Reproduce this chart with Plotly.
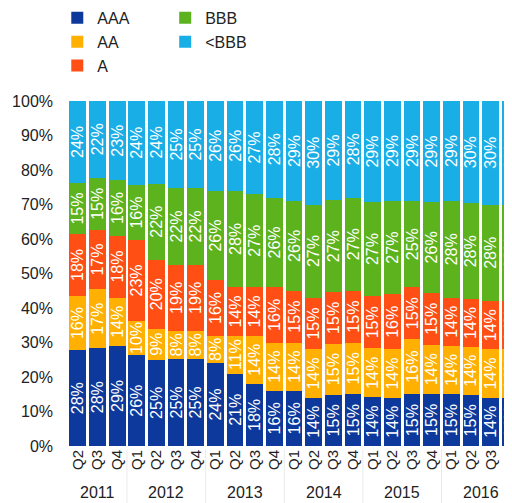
import plotly.graph_objects as go

years = ["2011"] * 3 + ["2012"] * 4 + ["2013"] * 4 + ["2014"] * 4 + ["2015"] * 4 + ["2016"] * 4
quarters = ["Q2", "Q3", "Q4"] + ["Q1", "Q2", "Q3", "Q4"] * 5
year_labels = ["2011", "2012", "2013", "2014", "2015", "2016"]

aaa = [28, 28, 29, 26, 25, 25, 25, 24, 21, 18, 16, 16, 14, 15, 15, 14, 14, 15, 15, 15, 15, 14, 14]
aa = [16, 17, 14, 10, 9, 8, 8, 8, 11, 14, 14, 14, 14, 15, 15, 14, 14, 16, 14, 14, 14, 14, 14]
a = [18, 17, 18, 23, 20, 19, 19, 16, 14, 14, 16, 15, 15, 15, 15, 15, 16, 15, 15, 14, 14, 14, 14]
bbb = [15, 15, 16, 16, 22, 22, 22, 26, 28, 27, 26, 26, 27, 27, 27, 27, 27, 25, 26, 28, 28, 28, 28]
below_bbb = [24, 22, 23, 24, 24, 25, 25, 26, 26, 27, 28, 29, 30, 29, 28, 29, 29, 29, 29, 29, 30, 30, 30]

y_ticks = [0, 10, 20, 30, 40, 50, 60, 70, 80, 90, 100]
y_tick_labels = [f"{t}%" for t in y_ticks]

series_names = ["AAA", "AA", "A", "BBB", "<BBB"]
series_values = [aaa, aa, a, bbb, below_bbb]
series_colors = ["#0d399c", "#ffb000", "#ff4f14", "#5db31e", "#1aaee6"]
series_legend = ["legend", "legend", "legend", "legend2", "legend2"]

FONT = "Liberation Sans, Arial, sans-serif"

# unique category keys per bar, quarter shown as tick text
x_keys = [f"{y} {q}" for y, q in zip(years, quarters)]

fig = go.Figure()
for name, vals, color, leg in zip(series_names, series_values, series_colors, series_legend):
    fig.add_bar(
        x=x_keys,
        y=vals,
        name=name,
        marker=dict(color=color, line=dict(width=0)),
        text=[f"{v}%" for v in vals],
        textposition="inside",
        textangle=-90,
        insidetextanchor="middle",
        textfont=dict(color="white", size=16, family=FONT),
        legend=leg,
        legendgroup=name,
        hoverinfo="skip",
    )

# year labels centred under each year group, dividers between groups
for yl in year_labels:
    idx = [i for i, y in enumerate(years) if y == yl]
    fig.add_annotation(
        x=(idx[0] + idx[-1]) / 2, xref="x",
        y=-0.135, yref="paper",
        text=yl, showarrow=False,
        font=dict(size=16, color="#222222", family=FONT),
        xanchor="center", yanchor="middle",
    )
    if idx[0] > 0:
        fig.add_shape(
            type="line", xref="x", yref="paper",
            x0=idx[0] - 0.5, x1=idx[0] - 0.5, y0=-0.01, y1=-0.2,
            line=dict(color="#ebebeb", width=1),
        )

fig.update_layout(
    width=520,
    height=495,
    margin=dict(l=60, r=0, t=93, b=57, autoexpand=False),
    paper_bgcolor="white",
    plot_bgcolor="white",
    barmode="stack",
    barnorm="percent",
    bargap=0.15,
    font=dict(family=FONT, color="#222222"),
    uniformtext=dict(minsize=16, mode="show"),
    xaxis=dict(
        type="category",
        range=[-0.5, 22.9],
        tickvals=x_keys,
        ticktext=quarters,
        tickangle=-90,
        ticklabeloverflow="allow",
        tickfont=dict(size=15, color="#222222"),
        showgrid=False,
        showline=False,
        ticks="",
        zeroline=False,
        automargin=False,
    ),
    yaxis=dict(
        range=[0, 100],
        tickvals=y_ticks,
        ticktext=y_tick_labels,
        tickfont=dict(size=16, color="#222222"),
        showgrid=False,
        zeroline=False,
        showline=False,
        ticks="",
        ticklabelstandoff=14,
        automargin=False,
    ),
    legend=dict(
        xref="paper", yref="paper",
        x=-0.0233, y=1.29, xanchor="left", yanchor="top",
        traceorder="normal", tracegroupgap=2,
        font=dict(size=16, color="#222222"),
        bgcolor="rgba(0,0,0,0)",
    ),
    legend2=dict(
        xref="paper", yref="paper",
        x=0.2113, y=1.29, xanchor="left", yanchor="top",
        traceorder="normal", tracegroupgap=2,
        font=dict(size=16, color="#222222"),
        bgcolor="rgba(0,0,0,0)",
    ),
    showlegend=True,
)

fig.write_html("out.html")
